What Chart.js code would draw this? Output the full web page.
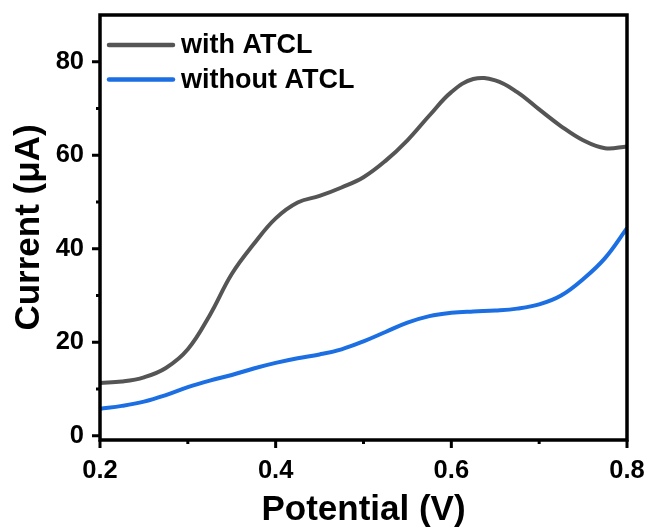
<!DOCTYPE html>
<html>
<head>
<meta charset="utf-8">
<script src="https://cdn.jsdelivr.net/npm/chart.js@4.4.1/dist/chart.umd.min.js"></script>
<style>
  html, body { margin: 0; padding: 0; background: #fff; }
  #wrap { width: 652px; height: 531px; }
</style>
</head>
<body>
<div id="wrap"><canvas id="chart" width="652" height="531"></canvas></div>
<script>
// --- data ---
const potential = [0.2, 0.225, 0.25, 0.275, 0.3, 0.325, 0.35, 0.375, 0.4, 0.425, 0.45, 0.475,
    0.5, 0.525, 0.55, 0.575, 0.6, 0.625, 0.65, 0.675, 0.7, 0.725, 0.75, 0.775, 0.8];
const withATCL = [11.3, 11.6, 12.5, 14.5, 18.5, 25.8, 34.6, 41.0, 46.5, 49.9, 51.3, 53.1,
    55.3, 58.8, 63.2, 68.5, 73.5, 76.3, 76.0, 73.5, 69.8, 66.2, 63.2, 61.5, 61.9];
const withoutATCL = [5.8, 6.4, 7.3, 8.7, 10.4, 11.8, 13.0, 14.4, 15.6, 16.6, 17.4, 18.5,
    20.2, 22.2, 24.2, 25.6, 26.3, 26.6, 26.8, 27.2, 28.1, 30.0, 33.5, 38.0, 44.4];
const seriesNames = ['with ATCL', 'without ATCL'];

const xTicks = [0.2, 0.4, 0.6, 0.8];
const xMinor = [0.3, 0.5, 0.7];
const yTicks = [0, 20, 40, 60, 80];
const yMinor = [10, 30, 50, 70];

const FONT = '"Liberation Sans", Arial, sans-serif';

const toPoints = (ys) => potential.map((x, i) => ({ x: x, y: ys[i] }));

// frame, tick marks and legend drawn on top
const framePlugin = {
    id: 'frame',
    afterDraw(chart) {
        const ctx = chart.ctx;
        const a = chart.chartArea;
        const xs = chart.scales.x, ys = chart.scales.y;
        ctx.save();
        ctx.strokeStyle = '#000';
        ctx.lineWidth = 3.5;
        ctx.strokeRect(a.left, a.top, a.right - a.left, a.bottom - a.top);

        ctx.lineWidth = 3;
        ctx.beginPath();
        xTicks.forEach(v => { const p = xs.getPixelForValue(v); ctx.moveTo(p, a.bottom); ctx.lineTo(p, a.bottom + 8); });
        xMinor.forEach(v => { const p = xs.getPixelForValue(v); ctx.moveTo(p, a.bottom); ctx.lineTo(p, a.bottom + 4); });
        yTicks.forEach(v => { const p = ys.getPixelForValue(v); ctx.moveTo(a.left, p); ctx.lineTo(a.left - 8, p); });
        yMinor.forEach(v => { const p = ys.getPixelForValue(v); ctx.moveTo(a.left, p); ctx.lineTo(a.left - 4, p); });
        ctx.stroke();

        // legend
        ctx.lineCap = 'round';
        ctx.font = 'bold 27px ' + FONT;
        ctx.textBaseline = 'middle';
        ctx.fillStyle = '#000';
        chart.data.datasets.forEach((ds, i) => {
            const y = 45 + i * 34.5;
            ctx.strokeStyle = ds.borderColor;
            ctx.lineWidth = 4.5;
            ctx.beginPath();
            ctx.moveTo(109, y);
            ctx.lineTo(173, y);
            ctx.stroke();
            ctx.fillText(ds.label, 181, y + 1);
        });
        ctx.restore();
    }
};

new Chart(document.getElementById('chart'), {
    type: 'line',
    data: {
        datasets: [
            { label: seriesNames[0], data: toPoints(withATCL), borderColor: '#555555' },
            { label: seriesNames[1], data: toPoints(withoutATCL), borderColor: '#1c6fe3' }
        ]
    },
    options: {
        responsive: false,
        animation: false,
        layout: { padding: { top: 15, right: 25, left: 0, bottom: 0 } },
        elements: {
            point: { radius: 0 },
            line: { borderWidth: 4, tension: 0.4, fill: false }
        },
        plugins: {
            legend: { display: false },
            tooltip: { enabled: false }
        },
        scales: {
            x: {
                type: 'linear',
                min: 0.2,
                max: 0.8,
                afterBuildTicks: (s) => { s.ticks = xTicks.map(v => ({ value: v })); },
                afterFit: (s) => { s.height = 91; s.paddingLeft = 0; s.paddingRight = 0; },
                grid: { display: false, drawTicks: false },
                border: { display: false },
                ticks: {
                    color: '#000',
                    padding: 16,
                    maxRotation: 0,
                    font: { family: FONT, size: 25.5, weight: 'bold' },
                    callback: (v) => v.toFixed(1)
                },
                title: {
                    display: true,
                    text: 'Potential (V)',
                    color: '#000',
                    padding: { top: 0, bottom: 0 },
                    font: { family: FONT, size: 35, weight: 'bold' }
                }
            },
            y: {
                type: 'linear',
                min: -0.9,
                max: 90,
                afterBuildTicks: (s) => { s.ticks = yTicks.map(v => ({ value: v })); },
                afterFit: (s) => { s.width = 100; s.paddingTop = 0; s.paddingBottom = 0; },
                grid: { display: false, drawTicks: false },
                border: { display: false },
                ticks: {
                    color: '#000',
                    padding: 16,
                    font: { family: FONT, size: 25.5, weight: 'bold' }
                },
                title: {
                    display: true,
                    text: 'Current (μA)',
                    color: '#000',
                    padding: { top: 8, bottom: 0 },
                    font: { family: FONT, size: 35, weight: 'bold' }
                }
            }
        }
    },
    plugins: [framePlugin]
});
</script>
</body>
</html>
